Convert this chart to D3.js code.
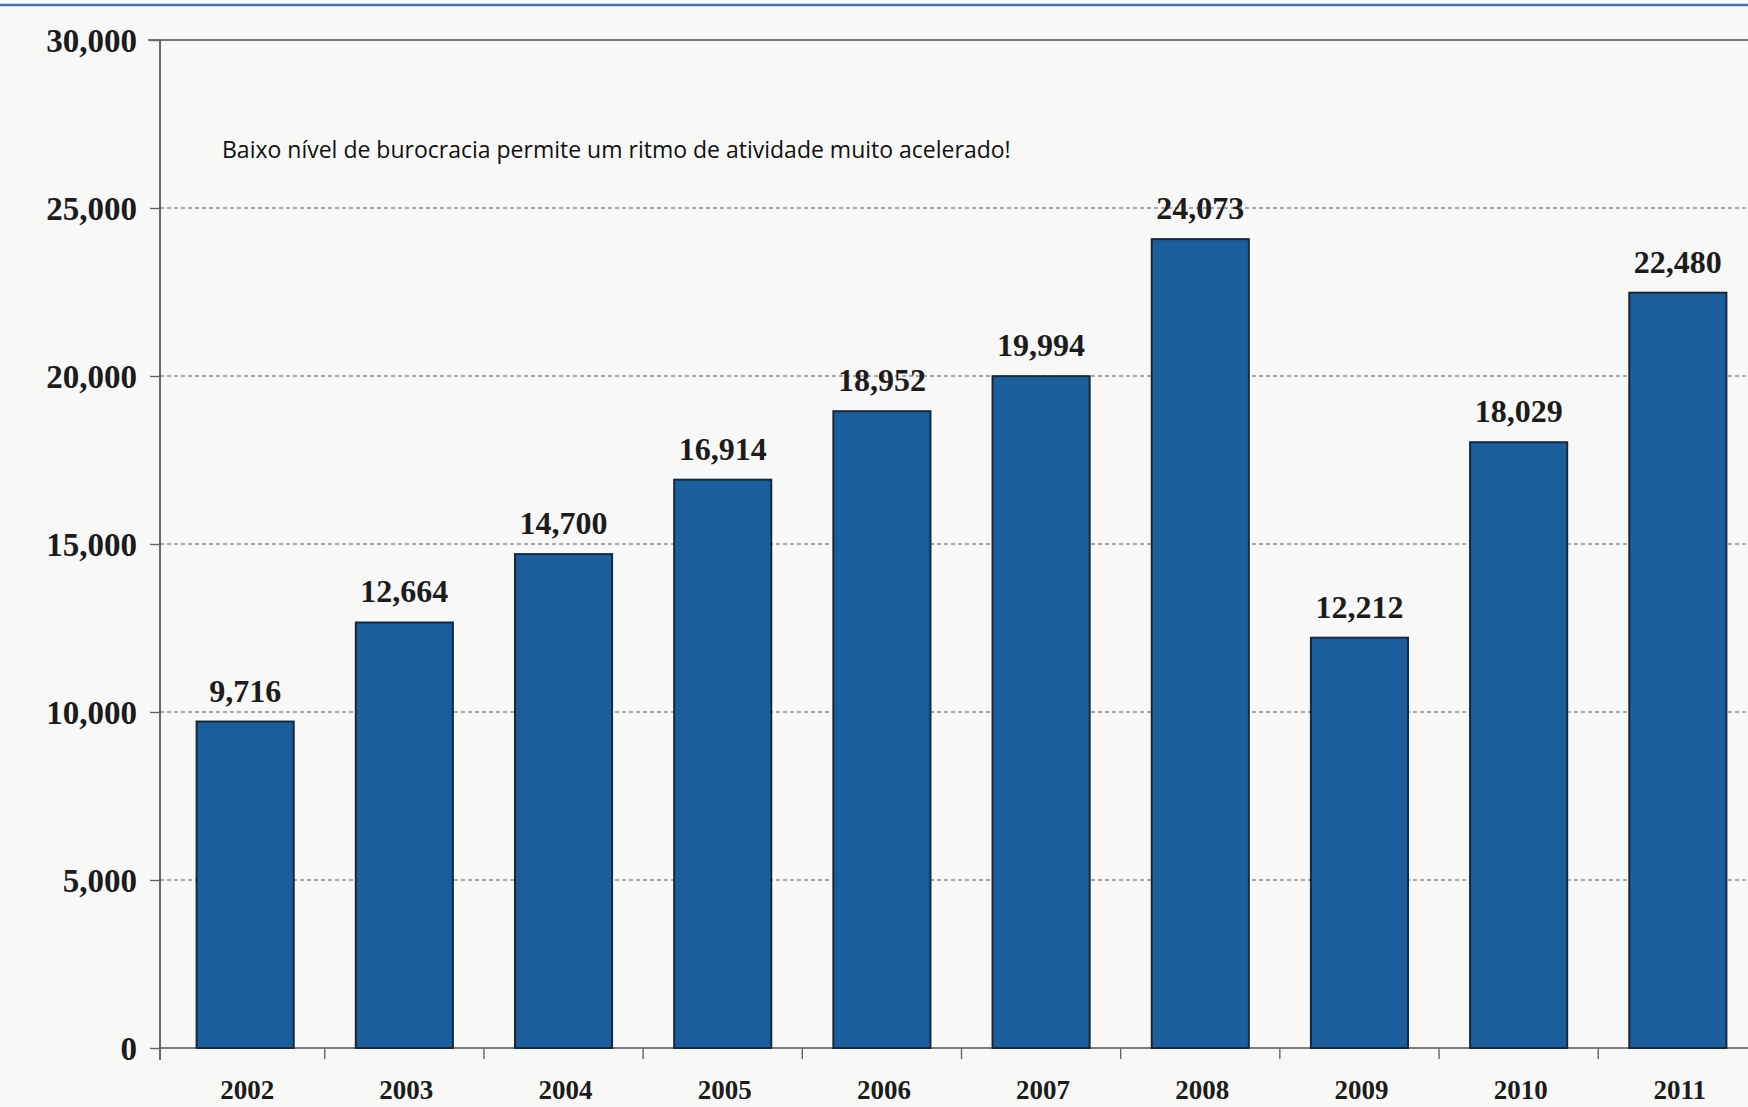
<!DOCTYPE html>
<html>
<head>
<meta charset="utf-8">
<script src="https://cdn.jsdelivr.net/npm/d3@7"></script>
<style>
  html, body { margin: 0; padding: 0; background: #f8f8f6; }
  svg { display: block; }
</style>
</head>
<body>
<svg id="chart" width="1748" height="1107"></svg>
<script>
// Annual counts, 2002–2011
const years = ["2002", "2003", "2004", "2005", "2006", "2007", "2008", "2009", "2010", "2011"];
const values = [9716, 12664, 14700, 16914, 18952, 19994, 24073, 12212, 18029, 22480];
const yTicks = [0, 5000, 10000, 15000, 20000, 25000, 30000];
const note = "Baixo nível de burocracia permite um ritmo de atividade muito acelerado!";

const W = 1748, H = 1107;
const plotLeft = 160, plotBottom = 1048, plotTop = 40;

const svg = d3.select("#chart");

// Header rule
svg.append("rect").attr("x", 0).attr("y", 0).attr("width", W).attr("height", H).attr("fill", "#f8f8f6");
svg.append("line").attr("x1", 0).attr("x2", W).attr("y1", 5).attr("y2", 5)
  .attr("stroke", "#4a6fb5").attr("stroke-width", 2.5);

const x = d3.scaleBand().domain(years).range([plotLeft, plotLeft + 160.3 * years.length])
  .paddingInner(0.39).paddingOuter(0.23);
const y = d3.scaleLinear().domain([0, 30000]).range([plotBottom, plotTop]);

// Dashed gridlines
svg.append("g").selectAll("line")
  .data(yTicks.filter(v => v > 0 && v < 30000))
  .join("line")
  .attr("x1", plotLeft).attr("x2", W)
  .attr("y1", d => y(d)).attr("y2", d => y(d))
  .attr("stroke", "#8f8f8f").attr("stroke-width", 1.3)
  .attr("stroke-dasharray", "4,3");

// Top frame line
svg.append("line").attr("x1", plotLeft - 12).attr("x2", W)
  .attr("y1", y(30000)).attr("y2", y(30000))
  .attr("stroke", "#777").attr("stroke-width", 2);

// Y axis
const yAxis = d3.axisLeft(y).tickValues(yTicks).tickSize(10).tickPadding(13)
  .tickFormat(d3.format(","));
const gy = svg.append("g").attr("transform", `translate(${plotLeft},0)`).call(yAxis);
gy.select(".domain").attr("stroke", "#444").attr("stroke-width", 1.6)
  .attr("d", `M0,${y(30000)}V${plotBottom + 12}`);
gy.selectAll(".tick line").attr("stroke", "#666").attr("stroke-width", 1.4);
gy.selectAll(".tick text")
  .attr("font-family", "'Liberation Serif', 'Times New Roman', serif")
  .attr("font-weight", "bold").attr("font-size", 33).attr("fill", "#1c1c1c")
  .attr("dy", "0.36em");

// X axis with ticks on band boundaries
const gx = svg.append("g").attr("transform", `translate(0,${plotBottom})`);
gx.append("line").attr("x1", plotLeft).attr("x2", W).attr("y1", 0).attr("y2", 0)
  .attr("stroke", "#555").attr("stroke-width", 1.6);
gx.selectAll("line.sep")
  .data(years.slice(1))
  .join("line").attr("class", "sep")
  .attr("x1", d => x(d) - x.step() * x.paddingInner() / 2)
  .attr("x2", d => x(d) - x.step() * x.paddingInner() / 2)
  .attr("y1", 0).attr("y2", 11)
  .attr("stroke", "#666").attr("stroke-width", 1.4);
gx.selectAll("text")
  .data(years)
  .join("text")
  .attr("x", d => x(d) + x.bandwidth() / 2 + 2)
  .attr("y", 51)
  .attr("text-anchor", "middle")
  .attr("font-family", "'Liberation Serif', 'Times New Roman', serif")
  .attr("font-weight", "bold").attr("font-size", 27).attr("fill", "#1c1c1c")
  .text(d => d);

// Bars
const data = years.map((yr, i) => ({ year: yr, value: values[i] }));
svg.append("g").selectAll("rect")
  .data(data)
  .join("rect")
  .attr("x", d => x(d.year))
  .attr("y", d => y(d.value))
  .attr("width", x.bandwidth())
  .attr("height", d => plotBottom - y(d.value))
  .attr("fill", "#1b5e9e")
  .attr("stroke", "#17283a").attr("stroke-width", 2);

// Value labels
svg.append("g").selectAll("text")
  .data(data)
  .join("text")
  .attr("x", d => x(d.year) + x.bandwidth() / 2)
  .attr("y", d => y(d.value) - 20)
  .attr("text-anchor", "middle")
  .attr("font-family", "'Liberation Serif', 'Times New Roman', serif")
  .attr("font-weight", "bold").attr("font-size", 32).attr("fill", "#1c1c1c")
  .text(d => d3.format(",")(d.value));

// Annotation
svg.append("text")
  .attr("x", 222).attr("y", 158)
  .attr("font-family", "'Open Sans', 'Noto Sans', sans-serif")
  .attr("font-size", 23).attr("fill", "#111")
  .text(note);
</script>
</body>
</html>
